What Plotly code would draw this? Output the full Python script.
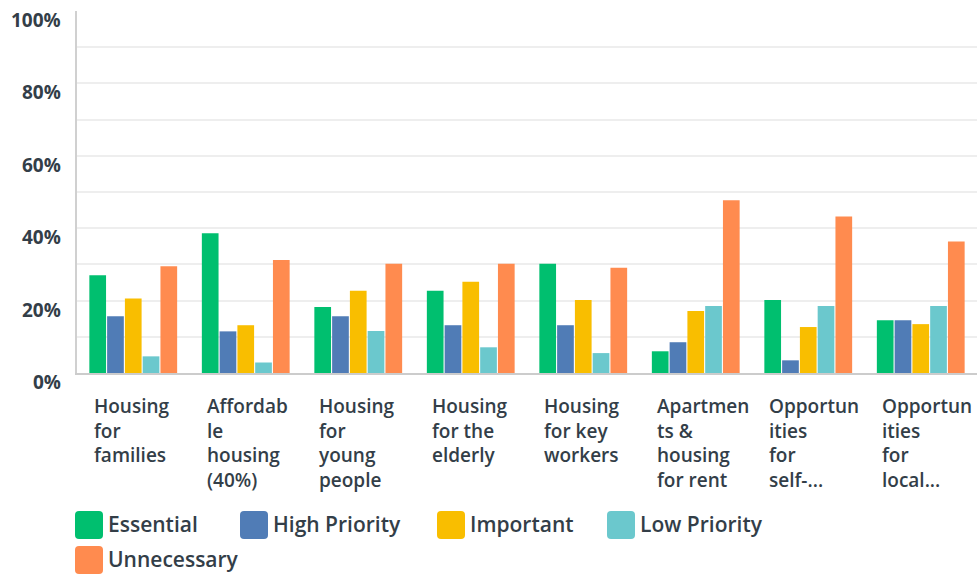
import plotly.graph_objects as go

# Survey question options (x categories) and their wrapped axis labels
categories = [
    "Housing for families",
    "Affordable housing (40%)",
    "Housing for young people",
    "Housing for the elderly",
    "Housing for key workers",
    "Apartments & housing for rent",
    "Opportunities for self-...",
    "Opportunities for local...",
]
category_labels = [
    "Housing<br>for<br>families",
    "Affordab<br>le<br>housing<br>(40%)",
    "Housing<br>for<br>young<br>people",
    "Housing<br>for the<br>elderly",
    "Housing<br>for key<br>workers",
    "Apartmen<br>ts &<br>housing<br>for rent",
    "Opportun<br>ities<br>for<br>self-...",
    "Opportun<br>ities<br>for<br>local...",
]

# Share of respondents (%) per priority rating
essential = [27.0, 38.6, 18.2, 22.7, 30.2, 6.0, 20.2, 14.6]
high_priority = [15.7, 11.5, 15.7, 13.2, 13.2, 8.5, 3.5, 14.6]
important = [20.6, 13.2, 22.7, 25.2, 20.2, 17.1, 12.7, 13.5]
low_priority = [4.6, 2.9, 11.6, 7.1, 5.5, 18.5, 18.5, 18.5]
unnecessary = [29.5, 31.2, 30.2, 30.2, 29.1, 47.7, 43.2, 36.3]

series_names = ["Essential", "High Priority", "Important", "Low Priority", "Unnecessary"]
series_values = [essential, high_priority, important, low_priority, unnecessary]
series_colors = ["#00bf6f", "#507cb6", "#f9be00", "#6bc8cd", "#ff8b4f"]

y_ticks = [0, 20, 40, 60, 80, 100]
y_tick_text = ["0%", "20%", "40%", "60%", "80%", "100%"]
grid_values = [10, 20, 30, 40, 50, 60, 70, 80, 90]

TEXT = "#333e48"
FONT = "Open Sans"
W, H = 977, 574
ML, MR, MT, MB = 77, 0, 11, 201
PW, PH = W - ML - MR, H - MT - MB


def px_x(px):
    return (px - ML) / PW


def px_y(py):
    return (H - MB - py) / PH


fig = go.Figure()
for name, vals, color in zip(series_names, series_values, series_colors):
    fig.add_trace(go.Bar(
        name=name, x=categories, y=vals, marker_color=color,
        marker_line_width=0, showlegend=False,
        hovertemplate="%{x}<br>" + name + ": %{y:.1f}%<extra></extra>",
    ))

annotations = []
shapes = []

# Left-aligned, wrapped category labels under each group
for cat, lab in zip(categories, category_labels):
    annotations.append(dict(
        x=cat, xref="x", y=px_y(391), yref="paper",
        xanchor="left", yanchor="top", xshift=-41, align="left",
        text=lab, showarrow=False,
        font=dict(family=FONT, size=19, color=TEXT, weight=600),
    ))

# Y tick labels sit slightly below their gridlines
for v, t in zip(y_ticks, y_tick_text):
    annotations.append(dict(
        x=px_x(63), xref="paper", y=v, yref="y", yshift=-9,
        xanchor="right", yanchor="middle", text=t, showarrow=False,
        font=dict(family=FONT, size=19, color=TEXT, weight=700),
    ))

# Legend: rounded colour swatches with labels
legend_pos = [(75, 525), (240, 525), (437, 525), (607, 525), (75, 560)]
sw = 28
r = 4
for (lx, cy), name, color in zip(legend_pos, series_names, series_colors):
    x0, x1 = px_x(lx), px_x(lx + sw)
    y0, y1 = px_y(cy + sw / 2), px_y(cy - sw / 2)
    rx, ry = r / PW, r / PH
    path = (
        f"M {x0 + rx} {y0} L {x1 - rx} {y0} Q {x1} {y0} {x1} {y0 + ry} "
        f"L {x1} {y1 - ry} Q {x1} {y1} {x1 - rx} {y1} "
        f"L {x0 + rx} {y1} Q {x0} {y1} {x0} {y1 - ry} "
        f"L {x0} {y0 + ry} Q {x0} {y0} {x0 + rx} {y0} Z"
    )
    shapes.append(dict(type="path", path=path, xref="paper", yref="paper",
                       fillcolor=color, line=dict(width=0)))
    annotations.append(dict(
        x=px_x(lx + sw + 4), xref="paper", y=px_y(cy - 1), yref="paper",
        xanchor="left", yanchor="middle", text=name, showarrow=False,
        borderpad=0,
        font=dict(family=FONT, size=21, color=TEXT, weight=600),
    ))

fig.update_layout(
    width=W, height=H,
    margin=dict(l=ML, r=MR, t=MT, b=MB),
    paper_bgcolor="white", plot_bgcolor="white",
    barmode="group", bargap=0.21, bargroupgap=0.06,
    annotations=annotations, shapes=shapes,
    font=dict(family=FONT, color=TEXT),
)
fig.update_xaxes(
    showticklabels=False, showgrid=False, ticks="",
    showline=True, linecolor="#cccccc", linewidth=2,
    range=[-0.5, len(categories) - 0.5],
)
fig.update_yaxes(
    range=[0, 100], tickvals=y_ticks, showticklabels=False,
    showgrid=False, zeroline=False,
    showline=True, linecolor="#d0d0d0", linewidth=1.5, ticks="",
    minor=dict(tickvals=grid_values, showgrid=True, gridcolor="#eeeeee", gridwidth=2, ticks=""),
)

fig.write_html("out.html")
